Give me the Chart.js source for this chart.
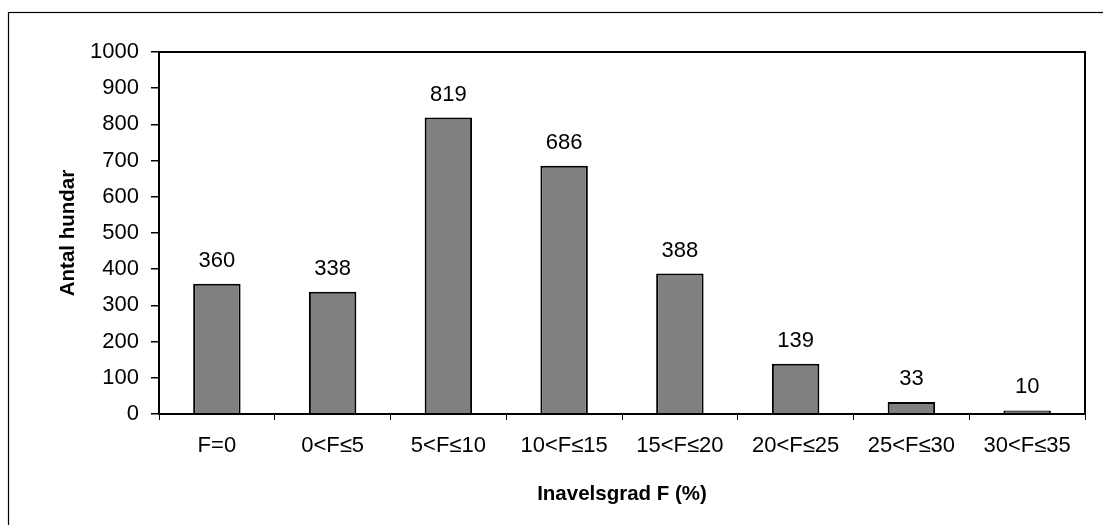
<!DOCTYPE html>
<html>
<head>
<meta charset="utf-8">
<script src="https://cdn.jsdelivr.net/npm/chart.js@4/dist/chart.umd.min.js"></script>
<style>
  html, body { margin: 0; padding: 0; background: #fff; }
  #wrap { width: 1103px; height: 525px; position: relative; }
</style>
</head>
<body>
<div id="wrap"><canvas id="c" width="1103" height="525"></canvas></div>
<script>
// Inbreeding classes and number of dogs per class
const categories = ['F=0', '0<F≤5', '5<F≤10', '10<F≤15', '15<F≤20', '20<F≤25', '25<F≤30', '30<F≤35'];
const dogCounts = [360, 338, 819, 686, 388, 139, 33, 10];
const yTicks = [0, 100, 200, 300, 400, 500, 600, 700, 800, 900, 1000];

const FONT = '"Liberation Sans", Arial, sans-serif';

// Frame, plot box, axis titles and value labels
const decorations = {
  id: 'decorations',
  beforeDraw(chart) {
    const ctx = chart.ctx;
    ctx.save();
    ctx.fillStyle = '#fff';
    ctx.fillRect(0, 0, chart.width, chart.height);
    ctx.strokeStyle = '#000';
    ctx.lineWidth = 1.2;
    ctx.strokeRect(8.5, 12.5, chart.width + 20, chart.height + 20);
    ctx.restore();
  },
  afterDatasetsDraw(chart) {
    const ctx = chart.ctx;
    const a = chart.chartArea;
    ctx.save();
    ctx.strokeStyle = '#000';
    ctx.lineWidth = 2;
    ctx.strokeRect(a.left, a.top, a.right - a.left, a.bottom - a.top);

    // value above each bar
    ctx.fillStyle = '#000';
    ctx.font = '22px ' + FONT;
    ctx.textAlign = 'center';
    ctx.textBaseline = 'alphabetic';
    const meta = chart.getDatasetMeta(0);
    meta.data.forEach((bar, i) => {
      ctx.fillText(String(chart.data.datasets[0].data[i]), bar.x, bar.y - 17);
    });

    // axis titles
    ctx.font = 'bold 20.5px ' + FONT;
    ctx.textBaseline = 'middle';
    ctx.fillText('Inavelsgrad F (%)', (a.left + a.right) / 2, 494);
    ctx.translate(68, (a.top + a.bottom) / 2);
    ctx.rotate(-Math.PI / 2);
    ctx.fillText('Antal hundar', 0, 0);
    ctx.restore();
  }
};

new Chart(document.getElementById('c'), {
  type: 'bar',
  data: {
    labels: categories,
    datasets: [{
      data: dogCounts,
      backgroundColor: '#808080',
      borderColor: '#000',
      borderWidth: 2,
      barPercentage: 0.41,
      categoryPercentage: 1.0
    }]
  },
  options: {
    responsive: false,
    animation: false,
    devicePixelRatio: 1,
    layout: { padding: { top: 52, right: 18, left: 0, bottom: 0 } },
    plugins: { legend: { display: false }, tooltip: { enabled: false } },
    scales: {
      x: {
        grid: { display: true, drawOnChartArea: false, drawTicks: true, tickLength: 6, color: '#000', lineWidth: 1, offset: true },
        border: { display: false },
        ticks: { color: '#000', font: { family: FONT, size: 22 }, padding: 13, maxRotation: 0, autoSkip: false },
        afterFit(scale) { scale.height = 111; }
      },
      y: {
        min: 0, max: 1000,
        afterBuildTicks(scale) { scale.ticks = yTicks.map(v => ({ value: v })); },
        grid: { display: true, drawOnChartArea: false, drawTicks: true, tickLength: 8, color: '#000', lineWidth: 1.5 },
        border: { display: false },
        ticks: { color: '#000', font: { family: FONT, size: 22 }, padding: 12, callback: v => String(v) },
        afterFit(scale) { scale.width = 159; }
      }
    }
  },
  plugins: [decorations]
});
</script>
</body>
</html>
